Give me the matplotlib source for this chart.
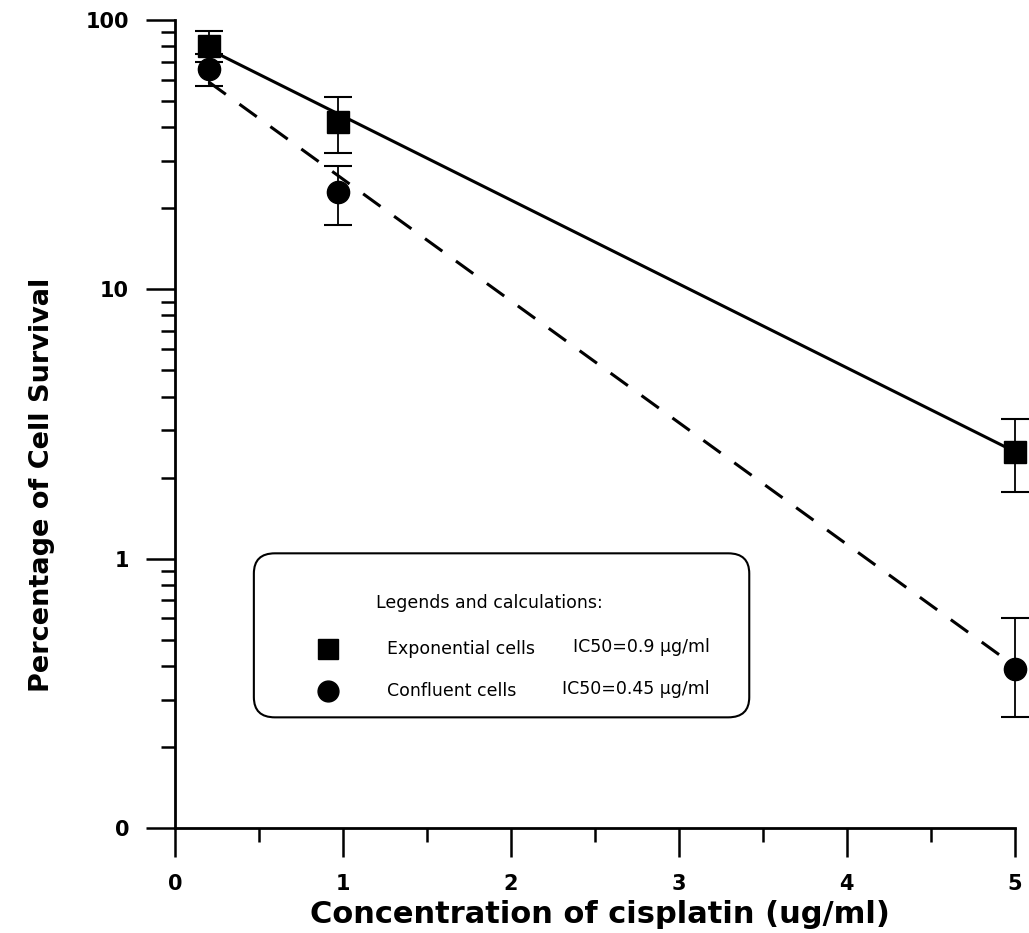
import matplotlib
matplotlib.use("Agg")
import matplotlib.pyplot as plt
from matplotlib.patches import FancyBboxPatch
from matplotlib.ticker import FixedLocator, FixedFormatter

# measured survival (%) vs cisplatin dose (ug/ml)
dose = [0.2, 0.97, 5.0]
exp_surv = [80, 42, 2.5]
exp_err_lo = [70, 32, 1.77]
exp_err_hi = [91, 52, 3.3]
conf_surv = [66, 23, 0.39]
conf_err_lo = [57, 17.3, 0.258]
conf_err_hi = [75, 28.8, 0.60]

# exponential fits drawn between the first and last dose
fit_dose = [0.2, 5.0]
exp_fit = [78, 2.5]
conf_fit = [59, 0.40]

y_ticks = [0.1, 1, 10, 100]
y_ticklabels = ["0", "1", "10", "100"]
x_ticks = [0, 1, 2, 3, 4, 5]

plt.rcParams["font.family"] = ["DejaVu Sans"]

fig = plt.figure(figsize=(10.29, 9.33), dpi=100)
ax = fig.add_axes([0.170, 0.1125, 0.816, 0.866])

ax.plot(fit_dose, exp_fit, color="black", lw=2.2, solid_capstyle="butt")
ax.plot(fit_dose, conf_fit, color="black", lw=2.2, dashes=(7, 5.5))

lo = [s - l for s, l in zip(exp_surv, exp_err_lo)]
hi = [h - s for s, h in zip(exp_surv, exp_err_hi)]
ax.errorbar(dose, exp_surv, yerr=[lo, hi], fmt="s", color="black", ms=16,
            ecolor="black", elinewidth=1.3, capsize=10, capthick=1.5, clip_on=False)
lo = [s - l for s, l in zip(conf_surv, conf_err_lo)]
hi = [h - s for s, h in zip(conf_surv, conf_err_hi)]
ax.errorbar(dose, conf_surv, yerr=[lo, hi], fmt="o", color="black", ms=16,
            ecolor="black", elinewidth=1.3, capsize=10, capthick=1.5, clip_on=False)

ax.set_yscale("log")
ax.set_ylim(0.1, 100)
ax.set_xlim(0, 5)

ax.yaxis.set_major_locator(FixedLocator(y_ticks))
ax.yaxis.set_major_formatter(FixedFormatter(y_ticklabels))
minor = [m * 10 ** e for e in (-1, 0, 1) for m in range(2, 10)]
ax.yaxis.set_minor_locator(FixedLocator(minor))
ax.yaxis.set_minor_formatter(FixedFormatter([""] * len(minor)))
ax.set_xticks(x_ticks)
ax.set_xticks([0.5, 1.5, 2.5, 3.5, 4.5], minor=True)

ax.tick_params(axis="both", which="major", direction="out", length=21, width=1.8,
               labelsize=15, pad=12)
ax.tick_params(axis="both", which="minor", direction="out", length=10, width=1.8)
for lab in ax.get_xticklabels() + ax.get_yticklabels():
    lab.set_fontweight("bold")

for s in ("top", "right"):
    ax.spines[s].set_visible(False)
for s in ("left", "bottom"):
    ax.spines[s].set_linewidth(2.0)

ax.set_ylabel("Percentage of Cell Survival", fontsize=19.5, fontweight="bold")
ax.yaxis.set_label_coords(-0.143, 0.4245)
ax.set_xlabel("Concentration of cisplatin (ug/ml)", fontsize=22, fontweight="bold")
ax.xaxis.set_label_coords(0.506, -0.089)

# legend box with the IC50 values
box = FancyBboxPatch((0.094, 0.137), 0.59, 0.203, boxstyle="round,pad=0,rounding_size=0.025",
                     transform=ax.transAxes, facecolor="white", edgecolor="black", lw=1.5)
ax.add_patch(box)
fs = 12.5
ax.text(0.240, 0.278, "Legends and calculations:", transform=ax.transAxes,
        fontsize=fs, va="center")
ax.plot([0.182], [0.222], "s", color="black", ms=15, transform=ax.transAxes)
ax.plot([0.182], [0.170], "o", color="black", ms=15, transform=ax.transAxes)
ax.text(0.252, 0.222, "Exponential cells", transform=ax.transAxes, fontsize=fs, va="center")
ax.text(0.252, 0.170, "Confluent cells", transform=ax.transAxes, fontsize=fs, va="center")
ax.text(0.637, 0.224, "IC50=0.9 µg/ml", transform=ax.transAxes, fontsize=fs,
        va="center", ha="right")
ax.text(0.637, 0.172, "IC50=0.45 µg/ml", transform=ax.transAxes, fontsize=fs,
        va="center", ha="right")

fig.savefig("out.png", dpi=100)
